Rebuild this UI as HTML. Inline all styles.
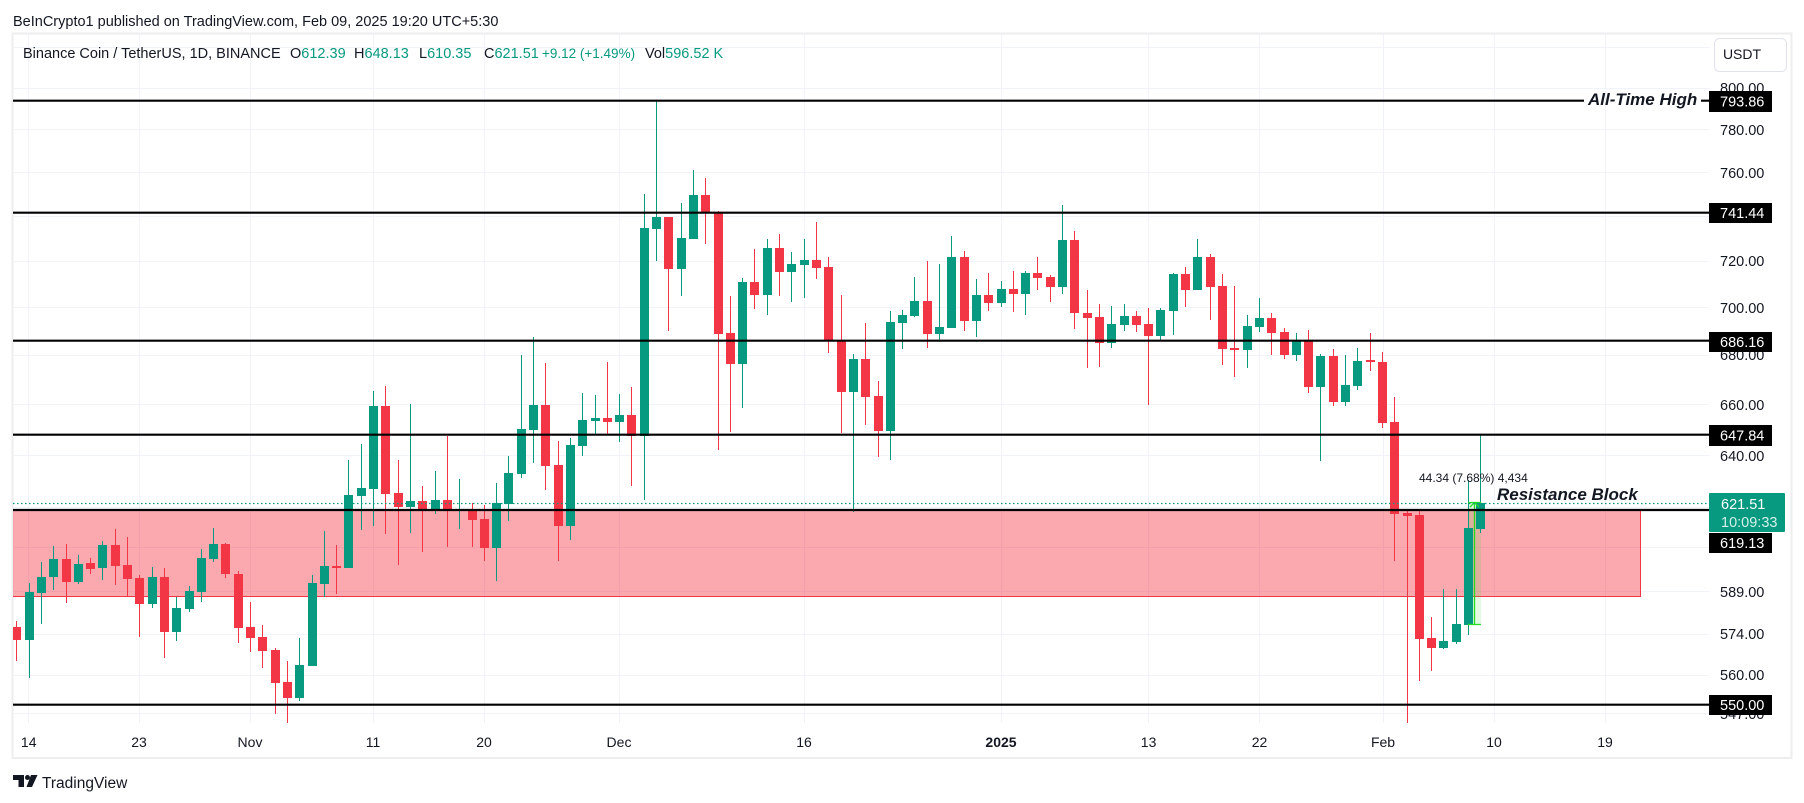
<!DOCTYPE html>
<html><head><meta charset="utf-8"><style>
html,body{margin:0;padding:0;background:#fff;}
svg{display:block;}
text{font-family:"Liberation Sans",Arial,sans-serif;}
</style></head><body>
<svg width="1804" height="803" viewBox="0 0 1804 803" xmlns="http://www.w3.org/2000/svg">
<defs><clipPath id="plot"><rect x="13" y="34" width="1696" height="689"/></clipPath></defs>
<rect width="1804" height="803" fill="#fff"/>
<text x="13" y="26" font-size="14.5" fill="#131722">BeInCrypto1 published on TradingView.com, Feb 09, 2025 19:20 UTC+5:30</text>
<rect x="12.5" y="33.5" width="1779" height="724.5" fill="none" stroke="#eeeeee" stroke-width="2"/>
<g stroke="#f0f3fa" stroke-width="1">
<path d="M28.5,34V723M139.5,34V723M250.5,34V723M373.5,34V723M484.5,34V723M619.5,34V723M804.5,34V723M1001.5,34V723M1148.5,34V723M1259.5,34V723M1383.5,34V723M1494.5,34V723M1605.5,34V723"/>
<path d="M13,47.5H1709M13,88.5H1709M13,129.5H1709M13,172.5H1709M13,216.5H1709M13,261.5H1709M13,307.5H1709M13,355.5H1709M13,404.5H1709M13,455.5H1709M13,507.5H1709M13,547.5H1709M13,591.5H1709M13,634.5H1709M13,675.5H1709M13,713.5H1709"/>
</g>
<g clip-path="url(#plot)">
<rect x="13" y="510" width="1628" height="87" fill="rgb(246,54,69)" fill-opacity="0.43"/>
<path d="M1640.5,510V596.5H13" fill="none" stroke="#f23645" stroke-width="1"/>
<rect x="1468" y="502" width="13" height="122" fill="#33dd33" fill-opacity="0.15"/>
<path fill="#089981" d="M25,592h9V640h-9ZM37,577h9V593h-9ZM49,559h9V577h-9ZM74,564h9V582h-9ZM98,545h9V568h-9ZM148,577h9V604h-9ZM172,608h9V632h-9ZM185,591h9V609h-9ZM197,558h9V592h-9ZM209,544h9V559h-9ZM295,665h9V698h-9ZM308,583h9V666h-9ZM320,566h9V584h-9ZM344,495h9V568h-9ZM357,488h9V496h-9ZM369,406h9V489h-9ZM406,501h9V507h-9ZM431,500h9V510h-9ZM455,509h9V511h-9ZM492,503h9V548h-9ZM504,473h9V504h-9ZM517,429h9V474h-9ZM529,405h9V430h-9ZM566,445h9V526h-9ZM578,420h9V446h-9ZM591,418h9V421h-9ZM615,415h9V422h-9ZM640,228h9V436h-9ZM652,217h9V229h-9ZM677,238h9V269h-9ZM689,195h9V239h-9ZM738,282h9V364h-9ZM763,248h9V295h-9ZM787,264h9V272h-9ZM800,260h9V265h-9ZM849,359h9V392h-9ZM886,322h9V431h-9ZM898,315h9V323h-9ZM910,301h9V316h-9ZM935,327h9V334h-9ZM947,257h9V328h-9ZM972,295h9V321h-9ZM997,289h9V303h-9ZM1021,273h9V294h-9ZM1058,240h9V287h-9ZM1107,324h9V343h-9ZM1120,316h9V325h-9ZM1156,310h9V336h-9ZM1169,274h9V311h-9ZM1193,257h9V290h-9ZM1243,326h9V350h-9ZM1255,318h9V327h-9ZM1292,340h9V355h-9ZM1316,356h9V387h-9ZM1341,385h9V402h-9ZM1353,361h9V386h-9ZM1439,641h9V648h-9ZM1452,624h9V642h-9ZM1464,528h9V625h-9ZM1476,503h9V529h-9Z"/>
<path fill="none" stroke="#089981" stroke-width="1" d="M29.5,583V678M41.5,562V624M53.5,546V590M78.5,555V584M102.5,541V580M152.5,567V608M176.5,597V641M189.5,586V612M201.5,549V602M213.5,528V562M299.5,638V701M312.5,575V666M324.5,531V597M348.5,460V568M361.5,444V530M373.5,391V526M410.5,404V533M435.5,471V514M459.5,479V529M496.5,483V581M508.5,456V521M521.5,355V478M533.5,337V463M570.5,438V540M582.5,393V456M595.5,395V434M619.5,394V442M644.5,194V500M656.5,101V261M681.5,203V296M693.5,170V239M742.5,278V408M767.5,239V315M791.5,252V302M804.5,239V298M853.5,354V512M890.5,311V460M902.5,310V349M914.5,277V317M939.5,264V342M951.5,236V328M976.5,279V337M1001.5,281V307M1025.5,271V315M1062.5,205V294M1111.5,306V348M1124.5,304V331M1160.5,308V340M1173.5,273V335M1197.5,239V290M1247.5,315V368M1259.5,298V332M1296.5,333V361M1320.5,354V461M1345.5,355V406M1357.5,348V390M1443.5,589V649M1456.5,589V644M1468.5,480V635M1480.5,434V533"/>
<path fill="#f23645" d="M12,627h9V640h-9ZM62,559h9V582h-9ZM86,563h9V569h-9ZM111,545h9V566h-9ZM123,565h9V579h-9ZM135,578h9V604h-9ZM160,577h9V632h-9ZM221,544h9V574h-9ZM234,574h9V628h-9ZM246,627h9V638h-9ZM258,637h9V651h-9ZM271,650h9V683h-9ZM283,682h9V698h-9ZM332,566h9V568h-9ZM381,406h9V494h-9ZM394,493h9V507h-9ZM418,501h9V510h-9ZM443,500h9V511h-9ZM468,510h9V520h-9ZM480,519h9V548h-9ZM541,405h9V466h-9ZM554,465h9V526h-9ZM603,418h9V422h-9ZM627,415h9V436h-9ZM664,217h9V269h-9ZM701,195h9V213h-9ZM714,212h9V334h-9ZM726,333h9V364h-9ZM750,282h9V295h-9ZM775,248h9V272h-9ZM812,260h9V268h-9ZM824,267h9V341h-9ZM837,340h9V392h-9ZM861,359h9V397h-9ZM874,396h9V431h-9ZM923,301h9V334h-9ZM960,257h9V321h-9ZM984,295h9V303h-9ZM1009,289h9V294h-9ZM1033,273h9V278h-9ZM1046,277h9V287h-9ZM1070,240h9V313h-9ZM1083,313h9V318h-9ZM1095,317h9V343h-9ZM1132,316h9V325h-9ZM1144,324h9V336h-9ZM1181,274h9V290h-9ZM1206,257h9V287h-9ZM1218,286h9V349h-9ZM1230,348h9V350h-9ZM1267,318h9V333h-9ZM1280,332h9V355h-9ZM1304,340h9V387h-9ZM1329,356h9V402h-9ZM1366,360h9V362h-9ZM1378,362h9V423h-9ZM1390,422h9V514h-9ZM1403,513h9V516h-9ZM1415,515h9V639h-9ZM1427,638h9V648h-9Z"/>
<path fill="none" stroke="#f23645" stroke-width="1" d="M16.5,621V661M66.5,544V603M90.5,558V574M115.5,529V585M127.5,537V597M139.5,575V637M164.5,568V658M225.5,543V578M238.5,571V643M250.5,602V652M262.5,625V668M275.5,648V714M287.5,661V723M336.5,545V594M385.5,386V534M398.5,460V565M422.5,486V552M447.5,436V547M472.5,503V547M484.5,505V561M545.5,363V490M558.5,441V561M607.5,362V435M631.5,387V486M668.5,217V331M705.5,178V244M718.5,211V450M730.5,296V432M754.5,249V309M779.5,234V296M816.5,222V279M828.5,257V353M841.5,295V433M865.5,323V425M878.5,381V457M927.5,261V348M964.5,251V331M988.5,273V311M1013.5,271V312M1037.5,257V290M1050.5,275V302M1074.5,231V329M1087.5,290V368M1099.5,304V367M1136.5,311V332M1148.5,308V405M1185.5,267V307M1210.5,254V320M1222.5,274V365M1234.5,286V377M1271.5,313V355M1284.5,328V359M1308.5,330V393M1333.5,349V406M1370.5,333V371M1382.5,352V428M1394.5,397V561M1407.5,510V723M1419.5,509V681M1431.5,617V671"/>
<path fill="none" stroke="#22dd22" stroke-width="1.3" d="M1474.5,503V624M1468,624.5H1481M1468,502.5H1481M1470,507L1474.5,502.5L1479,507"/>
<path stroke="#089981" stroke-width="1.2" stroke-dasharray="1.5,2.5" d="M13,503.5H1709"/>
<path stroke="#000" stroke-width="2.2" fill="none" d="M13,100.7H1584M1701,100.7H1709M13,212.7H1709M13,340.7H1709M13,434.7H1709M13,510H1709M13,704.7H1709"/>
</g>
<text x="1588" y="105" font-size="17" font-weight="bold" font-style="italic" fill="#131722">All-Time High</text>
<text x="1497" y="500" font-size="17" font-weight="bold" font-style="italic" fill="#131722">Resistance Block</text>
<text x="1419" y="482" font-size="12" fill="#131722">44.34 (7.68%) 4,434</text>
<g font-size="14.5" fill="#131722">
<text x="23" y="58">Binance Coin / TetherUS, 1D, BINANCE</text>
<text x="290" y="58">O<tspan fill="#089981">612.39</tspan></text>
<text x="354" y="58">H<tspan fill="#089981">648.13</tspan></text>
<text x="419" y="58">L<tspan fill="#089981">610.35</tspan></text>
<text x="484" y="58">C<tspan fill="#089981">621.51</tspan></text>
<text x="542" y="58" fill="#089981" font-size="13.5">+9.12 (+1.49%)</text>
<text x="645" y="58">Vol<tspan fill="#089981">596.52 K</tspan></text>
</g>
<rect x="1714.5" y="38.5" width="72" height="33" rx="5" fill="#fff" stroke="#e0e3eb"/>
<text x="1742" y="59" font-size="14" text-anchor="middle" fill="#131722">USDT</text>
<g font-size="14.5" fill="#131722">
<text x="1720" y="93">800.00</text>
<text x="1720" y="135">780.00</text>
<text x="1720" y="178">760.00</text>
<text x="1720" y="266">720.00</text>
<text x="1720" y="313">700.00</text>
<text x="1720" y="360">680.00</text>
<text x="1720" y="410">660.00</text>
<text x="1720" y="461">640.00</text>
<text x="1720" y="597">589.00</text>
<text x="1720" y="639">574.00</text>
<text x="1720" y="680">560.00</text>
<text x="1720" y="719">547.00</text>
</g>
<g font-size="14.5" fill="#fff">
<rect x="1709" y="91" width="63" height="21" fill="#000"/><text x="1720" y="106.5">793.86</text>
<rect x="1709" y="203" width="63" height="20" fill="#000"/><text x="1720" y="218">741.44</text>
<rect x="1709" y="332" width="63" height="20" fill="#000"/><text x="1720" y="347">686.16</text>
<rect x="1709" y="425" width="63" height="21" fill="#000"/><text x="1720" y="440.5">647.84</text>
<rect x="1709" y="533" width="63" height="20" fill="#000"/><text x="1720" y="548">619.13</text>
<rect x="1709" y="695" width="63" height="20" fill="#000"/><text x="1720" y="710">550.00</text>
<rect x="1709" y="493" width="76" height="39" rx="1" fill="#089981"/>
<text x="1721" y="509">621.51</text>
<text x="1721" y="527" fill="#d2f0e8">10:09:33</text>
</g>
<g font-size="14" fill="#131722" text-anchor="middle">
<text x="28.7" y="747">14</text>
<text x="139" y="747">23</text>
<text x="250" y="747">Nov</text>
<text x="373" y="747">11</text>
<text x="484" y="747">20</text>
<text x="619" y="747">Dec</text>
<text x="804" y="747">16</text>
<text x="1001" y="747" font-weight="bold">2025</text>
<text x="1148.6" y="747">13</text>
<text x="1259.5" y="747">22</text>
<text x="1383" y="747">Feb</text>
<text x="1494" y="747">10</text>
<text x="1605" y="747">19</text>
</g>
<g fill="#131722">
<path d="M13,775H24V787H18.5V780H13Z"/>
<circle cx="27.5" cy="777.5" r="2.5"/>
<path d="M31,775H37.5L32,787H26.5Z"/>
</g>
<text x="42" y="788" font-size="15.5" fill="#131722">TradingView</text>
</svg>
</body></html>
